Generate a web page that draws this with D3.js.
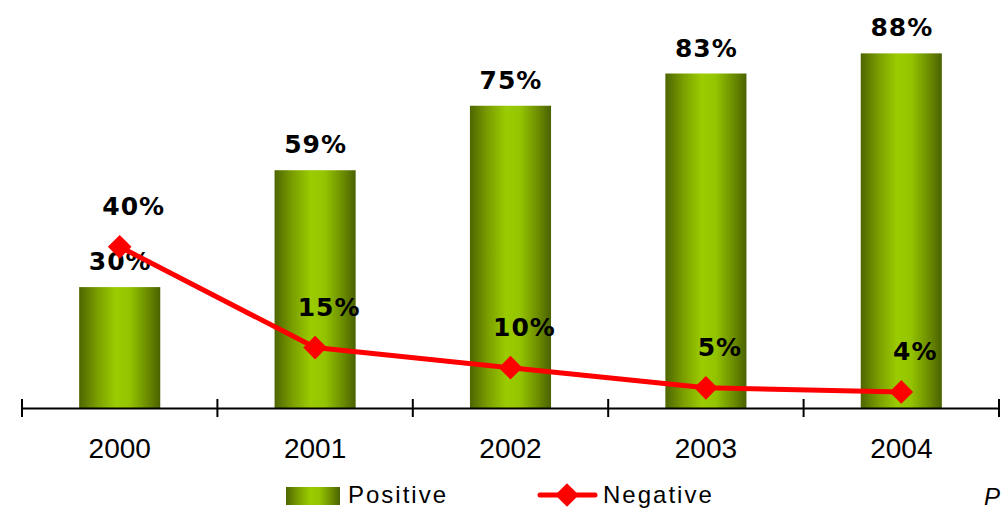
<!DOCTYPE html>
<html>
<head>
<meta charset="utf-8">
<script src="https://cdn.jsdelivr.net/npm/d3@7"></script>
<style>
  html, body { margin: 0; padding: 0; background: #fff; }
  svg { display: block; }
</style>
</head>
<body>
<svg id="chart" width="1003" height="509"></svg>
<script>
// Survey years and share of responses
const years = ["2000", "2001", "2002", "2003", "2004"];
const positive = [30, 59, 75, 83, 88];
const negative = [40, 15, 10, 5, 4];
const seriesNames = ["Positive", "Negative"];

const svg = d3.select("#chart");
const BOLD_FONT = "'DejaVu Sans', Verdana, sans-serif";
const FONT = "'Liberation Sans', Arial, sans-serif";

const x = d3.scaleBand().domain(years).range([22, 999]).paddingInner(0).paddingOuter(0);
const y = d3.scaleLinear().domain([0, 100]).range([408, 5]);
const barW = x.bandwidth() * 0.415;

// Cylinder-like shading for bars
const defs = svg.append("defs");
const grad = defs.append("linearGradient").attr("id", "barGrad")
  .attr("x1", "0%").attr("x2", "100%").attr("y1", "0%").attr("y2", "0%");
[[0, "#4d6600"], [0.22, "#7a9e00"], [0.45, "#9bcc00"], [0.62, "#94c400"], [0.85, "#6a8a00"], [1, "#4a6200"]]
  .forEach(([o, c]) => grad.append("stop").attr("offset", o).attr("stop-color", c));

// Bars
svg.append("g").selectAll("rect").data(years).join("rect")
  .attr("x", (d) => x(d) + x.bandwidth() / 2 - barW / 2)
  .attr("y", (d, i) => y(positive[i]))
  .attr("width", barW)
  .attr("height", (d, i) => y(0) - y(positive[i]))
  .attr("fill", "url(#barGrad)");

// Bar value labels
svg.append("g").selectAll("text").data(years).join("text")
  .attr("x", (d) => x(d) + x.bandwidth() / 2 + 0.5)
  .attr("y", (d, i) => y(positive[i]) - 17)
  .attr("text-anchor", "middle")
  .attr("font-family", BOLD_FONT).attr("font-weight", "bold").attr("font-size", 25)
  .attr("letter-spacing", 1)
  .attr("fill", "#000")
  .text((d, i) => positive[i] + "%");

// Category axis
const axis = d3.axisBottom(x).tickSize(0).tickPadding(0);
const gx = svg.append("g").attr("transform", `translate(0,${y(0)})`).call(axis);
gx.select(".domain").attr("stroke", "#000").attr("stroke-width", 2);
gx.selectAll(".tick text")
  .attr("y", 50).attr("dy", 0)
  .attr("font-family", FONT).attr("font-size", 28).attr("fill", "#000");
// Tick marks at band boundaries
const bounds = years.map((d) => x(d)).concat([x.range()[1]]);
gx.selectAll("line.sep").data(bounds).join("line").attr("class", "sep")
  .attr("x1", (d) => d).attr("x2", (d) => d)
  .attr("y1", -9).attr("y2", 9)
  .attr("stroke", "#000").attr("stroke-width", 2);

// Negative line
const cx = (i) => x(years[i]) + x.bandwidth() / 2;
const line = d3.line().x((d, i) => cx(i)).y((d) => y(d));
svg.append("path").datum(negative)
  .attr("d", line).attr("fill", "none")
  .attr("stroke", "#ff0000").attr("stroke-width", 5).attr("stroke-linejoin", "round");

const marker = d3.symbol().type(d3.symbolSquare).size(280);
svg.append("g").selectAll("path").data(negative).join("path")
  .attr("transform", (d, i) => `translate(${cx(i)},${y(d)}) rotate(45)`)
  .attr("d", marker)
  .attr("fill", "#ff0000");

svg.append("g").selectAll("text").data(negative).join("text")
  .attr("x", (d, i) => cx(i) + 14)
  .attr("y", (d) => y(d) - 32)
  .attr("text-anchor", "middle")
  .attr("font-family", BOLD_FONT).attr("font-weight", "bold").attr("font-size", 25)
  .attr("letter-spacing", 1)
  .attr("fill", "#000")
  .text((d) => d + "%");

// Legend
const lg = svg.append("g");
lg.append("rect").attr("x", 286).attr("y", 487).attr("width", 54).attr("height", 18).attr("fill", "url(#barGrad)");
lg.append("text").attr("x", 348).attr("y", 503)
  .attr("font-family", FONT).attr("font-size", 24).attr("letter-spacing", 2).text(seriesNames[0]);
lg.append("line").attr("x1", 540).attr("x2", 595).attr("y1", 495).attr("y2", 495)
  .attr("stroke", "#ff0000").attr("stroke-width", 5).attr("stroke-linecap", "round");
lg.append("path").attr("transform", "translate(567,495) rotate(45)")
  .attr("d", marker).attr("fill", "#ff0000");
lg.append("text").attr("x", 603).attr("y", 503)
  .attr("font-family", FONT).attr("font-size", 24).attr("letter-spacing", 2).text(seriesNames[1]);

// Source note in the bottom-right corner
svg.append("text").attr("x", 984).attr("y", 505)
  .attr("font-family", FONT).attr("font-style", "italic").attr("font-size", 24).text("P");
</script>
</body>
</html>
